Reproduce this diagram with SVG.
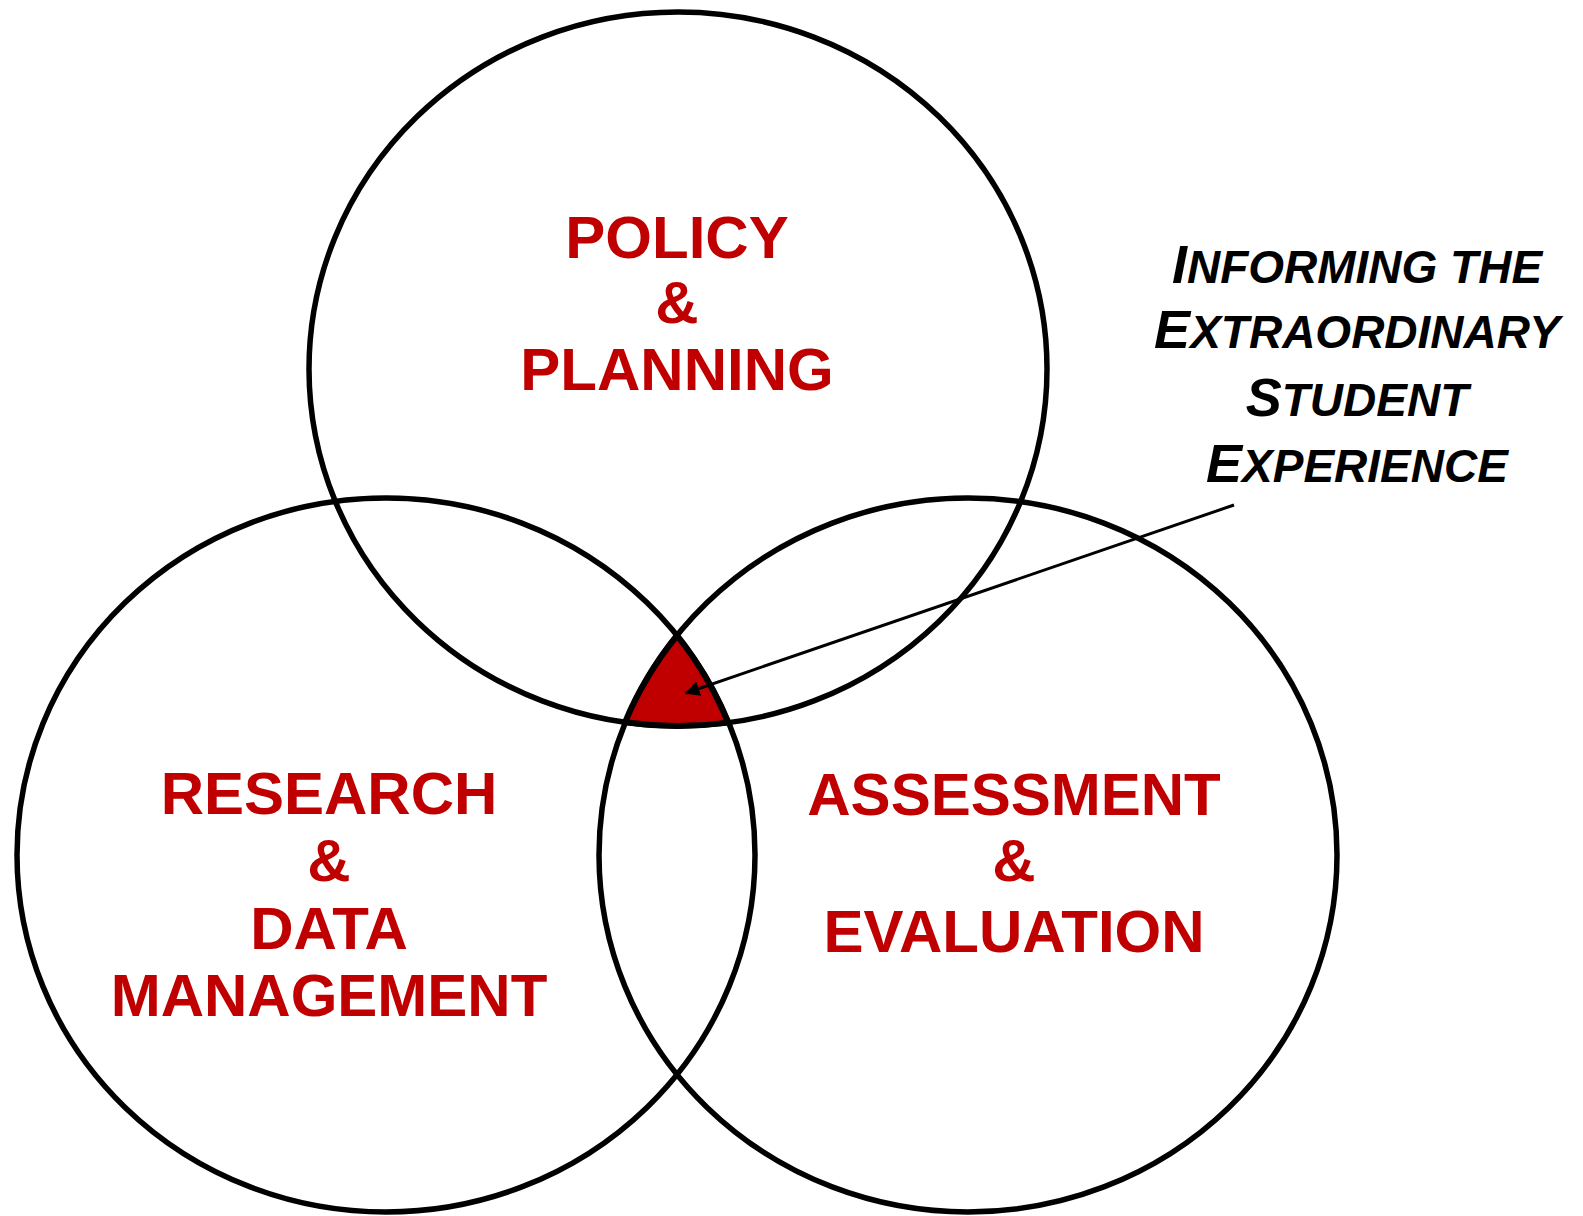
<svg xmlns="http://www.w3.org/2000/svg" width="1583" height="1216" viewBox="0 0 1583 1216">
<style>
.ring{fill:none;stroke:#000;stroke-width:5.5}
.lbl{font-family:"Liberation Sans",Arial,sans-serif;font-weight:bold;fill:#C00000;font-size:60px;text-anchor:middle}
.note{font-family:"Liberation Sans",Arial,sans-serif;font-weight:bold;font-style:italic;fill:#000;font-size:54px;text-anchor:middle}
.sc{font-size:46px}
</style>
<defs>
<marker id="ah" viewBox="0 0 10 10" refX="9" refY="5" markerWidth="5" markerHeight="5" orient="auto" markerUnits="strokeWidth">
<path d="M0,0 L10,5 L0,10 z" fill="#000"/>
</marker>
</defs>
<rect width="1583" height="1216" fill="#fff"/>
<g id="policy">
<ellipse class="ring" cx="678" cy="369" rx="369" ry="357"/>
<text class="lbl" x="677" y="258">POLICY</text>
<text class="lbl" x="677" y="323">&amp;</text>
<text class="lbl" x="677" y="390">PLANNING</text>
</g>
<g id="research">
<ellipse class="ring" cx="386" cy="855" rx="369" ry="357"/>
<text class="lbl" x="329" y="814">RESEARCH</text>
<text class="lbl" x="329" y="881">&amp;</text>
<text class="lbl" x="329" y="949">DATA</text>
<text class="lbl" x="329" y="1016">MANAGEMENT</text>
</g>
<g id="assessment">
<ellipse class="ring" cx="968" cy="855" rx="369" ry="357"/>
<text class="lbl" x="1014" y="815">ASSESSMENT</text>
<text class="lbl" x="1014" y="881">&amp;</text>
<text class="lbl" x="1014" y="952">EVALUATION</text>
</g>
<g id="center">
<path d="M677,635.5 A369,357 0 0 0 625,722.3 A369,357 0 0 0 728,722.6 A369,357 0 0 0 677,635.5 Z" fill="#C00000" stroke="#000" stroke-width="6" stroke-linejoin="round"/>
</g>
<g id="note">
<text class="note" x="1357" y="283">I<tspan class="sc">NFORMING THE</tspan></text>
<text class="note" x="1357" y="348">E<tspan class="sc">XTRAORDINARY</tspan></text>
<text class="note" x="1357" y="416">S<tspan class="sc">TUDENT</tspan></text>
<text class="note" x="1357" y="482">E<tspan class="sc">XPERIENCE</tspan></text>
</g>
<g id="connectors">
<line x1="1234" y1="505" x2="686" y2="693" stroke="#000" stroke-width="3" marker-end="url(#ah)"/>
</g>
</svg>
